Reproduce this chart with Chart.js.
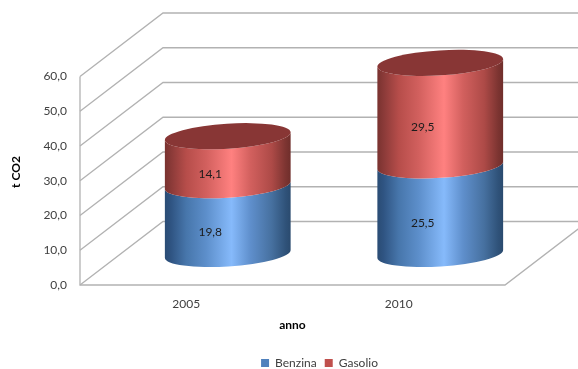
<!DOCTYPE html>
<html><head><meta charset="utf-8">
<script src="https://cdn.jsdelivr.net/npm/chart.js@4/dist/chart.umd.min.js"></script>
<style>html,body{margin:0;padding:0;background:#fff}canvas{display:block}</style>
</head><body>
<div style="width:578px;height:369px"><canvas id="c" width="578" height="369"></canvas></div>
<script>
const categories = ['2005', '2010'];
const benzina = [19.8, 25.5];
const gasolio = [14.1, 29.5];
const yMax = 60, yStep = 10;
const yTitle = 't CO2';
const fmt = v => v.toFixed(1).replace('.', ',');

const DEPTH_X = 83, DEPTH_Y = -63.5, CYL_X = 41.5, CYL_Y = -31, RX = 63, RY = 12.5, ROT = -3.6 * Math.PI / 180;
const LABEL_X = 24, LABEL_Y = -18;
const LEGEND_DX = 63, LEGEND_DY = 10;
const sideStops = {
  0: [[0,'#2a4c74'],[0.05,'#2f5482'],[0.17,'#4776ab'],[0.33,'#5d8fcb'],[0.53,'#86bafb'],[0.68,'#5f8fcc'],[0.85,'#46709f'],[0.96,'#2f5279'],[1,'#2a4a6e']],
  1: [[0,'#79322f'],[0.05,'#8a3a38'],[0.17,'#b64d4a'],[0.33,'#d2605e'],[0.53,'#ff8180'],[0.68,'#d2605e'],[0.85,'#ad4a47'],[0.96,'#7c3431'],[1,'#6f2e2b']]
};
const TOP_FILL = '#883635';

function segment(ctx, cx, yBase, yTop, stops) {
  const g = ctx.createLinearGradient(cx - RX, 0, cx + RX, 0);
  stops.forEach(s => g.addColorStop(s[0], s[1]));
  ctx.beginPath();
  ctx.ellipse(cx, yBase, RX, RY, ROT, 0, Math.PI, false);
  ctx.ellipse(cx, yTop, RX, RY, ROT, Math.PI, 0, true);
  ctx.closePath();
  ctx.fillStyle = g;
  ctx.fill();
}

const scene = {
  id: 'scene',
  afterInit(chart) {
    const l = chart.legend;
    const d = l.draw;
    l.draw = function (area) {
      const ctx = chart.ctx;
      ctx.save();
      ctx.translate(LEGEND_DX, LEGEND_DY);
      d.call(this, area);
      ctx.restore();
    };
  },
  beforeDatasetsDraw(chart) {
    const { ctx, scales: { x, y }, chartArea: a } = chart;
    ctx.save();
    // walls and floor
    ctx.strokeStyle = '#b2b2b2';
    ctx.lineWidth = 1.3;
    y.ticks.forEach(t => {
      const py = y.getPixelForValue(t.value);
      ctx.beginPath();
      ctx.moveTo(a.left, py);
      ctx.lineTo(a.left + DEPTH_X, py + DEPTH_Y);
      ctx.lineTo(a.right + DEPTH_X, py + DEPTH_Y);
      ctx.stroke();
    });
    ctx.beginPath();
    ctx.moveTo(a.left, a.top);
    ctx.lineTo(a.left, a.bottom);
    ctx.lineTo(a.right, a.bottom);
    ctx.lineTo(a.right + DEPTH_X, a.bottom + DEPTH_Y);
    ctx.stroke();
    // cylinders
    categories.forEach((c, i) => {
      const cx = x.getPixelForValue(i) + CYL_X;
      const y0 = y.getPixelForValue(0) + CYL_Y;
      const y1 = y.getPixelForValue(benzina[i]) + CYL_Y;
      const y2 = y.getPixelForValue(benzina[i] + gasolio[i]) + CYL_Y;
      segment(ctx, cx, y0, y1, sideStops[0]);
      segment(ctx, cx, y1, y2, sideStops[1]);
      ctx.beginPath();
      ctx.ellipse(cx, y2, RX, RY, ROT, 0, Math.PI * 2);
      ctx.fillStyle = TOP_FILL;
      ctx.fill();
      ctx.fillStyle = '#1c1c1c';
      ctx.font = '12px Lato';
      ctx.textAlign = 'center';
      ctx.textBaseline = 'middle';
      const lx = x.getPixelForValue(i) + LABEL_X;
      ctx.fillText(fmt(benzina[i]), lx, y.getPixelForValue(benzina[i] / 2) + LABEL_Y);
      ctx.fillText(fmt(gasolio[i]), lx, y.getPixelForValue(benzina[i] + gasolio[i] / 2) + LABEL_Y);
    });
    ctx.restore();
    return false;
  },
  afterDraw(chart) {
    const ctx = chart.ctx;
    ctx.save();
    ctx.translate(16, 172);
    ctx.rotate(-Math.PI / 2);
    ctx.fillStyle = '#000';
    ctx.font = 'bold 12px Lato';
    ctx.textAlign = 'center';
    ctx.textBaseline = 'middle';
    ctx.fillText(yTitle, 0, 0);
    ctx.restore();
  }
};

new Chart(document.getElementById('c'), {
  type: 'bar',
  data: {
    labels: categories,
    datasets: [
      { label: 'Benzina', data: benzina, backgroundColor: '#4f81bd', borderWidth: 0 },
      { label: 'Gasolio', data: gasolio, backgroundColor: '#c0504d', borderWidth: 0 }
    ]
  },
  plugins: [scene],
  options: {
    responsive: false,
    animation: false,
    layout: { padding: { left: 8, right: 73, top: 76.5, bottom: 0 } },
    plugins: {
      tooltip: { enabled: false },
      legend: {
        position: 'bottom',
        labels: { boxWidth: 8, boxHeight: 8, padding: 8, color: '#404040', font: { family: 'Lato', size: 12 } }
      }
    },
    scales: {
      x: {
        stacked: true,
        grid: { display: false, drawTicks: false },
        border: { display: false },
        ticks: { color: '#404040', padding: 12, font: { family: 'Lato', size: 12 } },
        title: { display: true, text: 'anno', color: '#000', font: { family: 'Lato', size: 12, weight: 'bold' }, padding: { top: 6, bottom: 7 } },
        afterFit(s) { s.height = 54; }
      },
      y: {
        stacked: true,
        min: 0, max: yMax,
        grid: { display: false, drawTicks: false },
        border: { display: false },
        ticks: { stepSize: yStep, color: '#404040', padding: 13, font: { family: 'Lato', size: 12 }, callback: v => fmt(v) },
        afterFit(s) { s.width = 72; }
      }
    }
  }
});
</script>
</body></html>
